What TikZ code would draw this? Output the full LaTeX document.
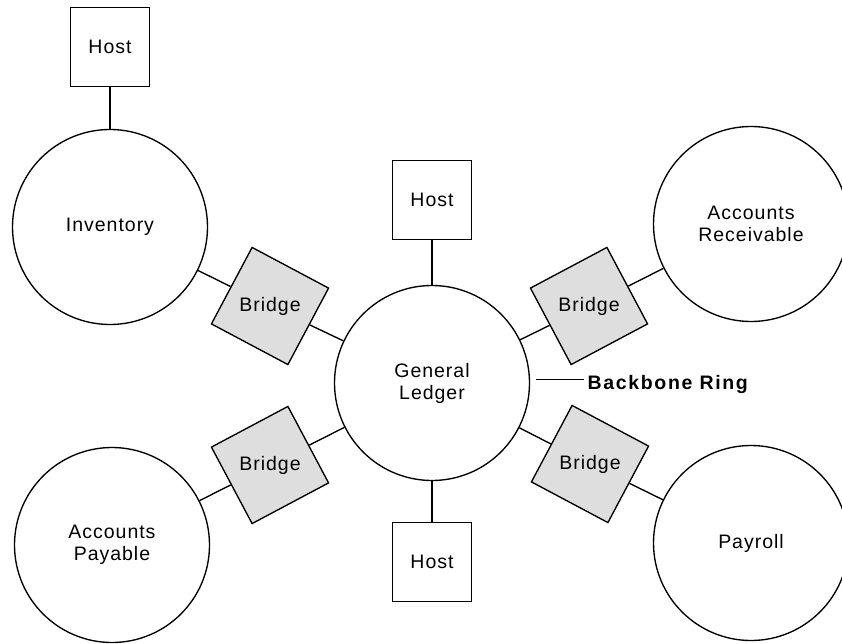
\documentclass[tikz,border=0pt]{standalone}
\usepackage{fontspec}
\newfontfamily\netfont{Liberation Sans}[LetterSpace=5]
\usetikzlibrary{shapes.geometric}

\begin{document}
\begin{tikzpicture}[x=1pt, y=-1pt, line width=1.35pt,
		font=\netfont\fontsize{19.5}{22}\selectfont,
		ring/.style={draw, circle, minimum size=195pt, inner sep=0pt, align=center},
		host/.style={draw, minimum size=79pt, inner sep=0pt},
		bridge/.style={draw, fill=black!13, regular polygon, regular polygon sides=4,
			minimum size=110pt, inner sep=0pt}]
		\useasboundingbox (0,0) rectangle (842,644);
		% кольца
		\node[ring] (gl) at (432,383) {General\\Ledger};
		\node[ring] (inv) at (110,227) {Inventory};
		\node[ring] (ar) at (751,224) {Accounts\\Receivable};
		\node[ring] (ap) at (112,545) {Accounts\\Payable};
		\node[ring] (pay) at (751,543) {Payroll};
		% хосты
		\foreach \name/\x/\y in {h1/110/47, h2/432/200, h3/432/562}{
			\node[host] (\name) at (\x,\y) {Host};
		}
		% мосты
		\foreach \name/\x/\y/\a in {b1/270/306/-28, b2/589/306/28,
			b3/270/465/28, b4/590/464/-28}{
			\node[bridge, shape border rotate=\a] (\name) at (\x,\y) {Bridge};
		}
		% связи
		\foreach \a/\b in {h1/inv, h2/gl, gl/h3, inv/b1, b1/gl, ar/b2, b2/gl,
			ap/b3, b3/gl, gl/b4, b4/pay}{
			\draw (\a) -- (\b);
		}
		% подпись кольца
		\coordinate (tick) at (536,379);
		\node[anchor=west, inner sep=3pt,
			font=\netfont\bfseries\addfontfeatures{LetterSpace=8.5}\fontsize{19.5}{22}\selectfont]
			(bb) at (584,384) {Backbone Ring};
		\draw[line width=1pt] (tick) -- (tick -| bb.west);
	\end{tikzpicture}
\end{document}
